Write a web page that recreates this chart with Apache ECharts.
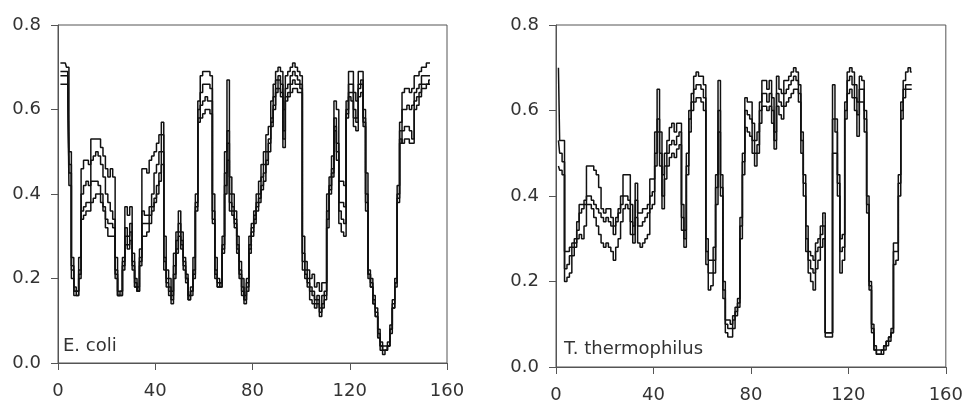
<!DOCTYPE html>
<html>
<head>
<meta charset="utf-8">
<script src="https://cdn.jsdelivr.net/npm/echarts@6/dist/echarts.min.js"></script>
<style>
html,body{margin:0;padding:0;background:#fff;}
#chart{width:966px;height:407px;}
</style>
</head>
<body>
<div id="chart"></div>
<script>
// x ticks / y ticks
const xTicks = [0, 40, 80, 120, 160];
const yTicks = [0.0, 0.2, 0.4, 0.6, 0.8];
const panelLabels = ["E. coli", "T. thermophilus"];

// E. coli profiles (residue positions 1..153)
const ecoliA = [
0.71,0.71,0.71,0.70,0.50,0.25,0.18,0.17,0.25,0.46,
0.48,0.48,0.47,0.53,0.53,0.53,0.53,0.51,0.49,0.46,
0.44,0.46,0.44,0.25,0.17,0.17,0.25,0.37,0.35,0.37,
0.26,0.20,0.18,0.27,0.46,0.46,0.45,0.48,0.49,0.50,
0.52,0.54,0.57,0.30,0.22,0.20,0.17,0.26,0.31,0.36,
0.31,0.25,0.21,0.16,0.18,0.25,0.40,0.62,0.68,0.69,
0.69,0.69,0.68,0.40,0.25,0.20,0.19,0.30,0.50,0.67,
0.44,0.40,0.36,0.30,0.24,0.20,0.16,0.20,0.30,0.33,
0.36,0.40,0.43,0.47,0.50,0.54,0.56,0.62,0.66,0.69,
0.70,0.69,0.60,0.68,0.69,0.70,0.71,0.70,0.69,0.68,
0.30,0.24,0.22,0.20,0.21,0.18,0.19,0.17,0.19,0.19,
0.40,0.44,0.49,0.62,0.60,0.43,0.43,0.42,0.62,0.69,
0.69,0.64,0.62,0.69,0.69,0.60,0.45,0.22,0.20,0.16,
0.13,0.08,0.05,0.04,0.04,0.05,0.09,0.15,0.20,0.42,
0.57,0.64,0.65,0.65,0.64,0.65,0.68,0.68,0.69,0.70,
0.70,0.71,0.71];
const ecoliB = [
0.68,0.68,0.68,0.68,0.45,0.22,0.17,0.17,0.22,0.40,
0.42,0.43,0.42,0.48,0.49,0.50,0.49,0.47,0.44,0.40,
0.38,0.36,0.34,0.22,0.16,0.17,0.24,0.32,0.30,0.33,
0.24,0.19,0.17,0.25,0.36,0.35,0.35,0.37,0.40,0.45,
0.47,0.50,0.54,0.25,0.20,0.18,0.15,0.23,0.29,0.33,
0.29,0.23,0.20,0.15,0.17,0.22,0.38,0.60,0.64,0.66,
0.66,0.66,0.65,0.36,0.22,0.18,0.18,0.28,0.45,0.55,
0.40,0.37,0.34,0.28,0.22,0.18,0.15,0.19,0.28,0.32,
0.35,0.38,0.40,0.44,0.47,0.50,0.53,0.58,0.63,0.67,
0.68,0.66,0.55,0.65,0.66,0.68,0.69,0.68,0.67,0.66,
0.26,0.22,0.20,0.18,0.17,0.15,0.16,0.13,0.16,0.17,
0.36,0.42,0.46,0.58,0.52,0.38,0.38,0.37,0.60,0.66,
0.66,0.60,0.58,0.66,0.67,0.58,0.40,0.21,0.19,0.15,
0.12,0.07,0.04,0.03,0.03,0.04,0.08,0.14,0.19,0.40,
0.55,0.60,0.60,0.61,0.60,0.61,0.64,0.65,0.66,0.68,
0.68,0.68,0.68];
const ecoliC = [
0.66,0.66,0.66,0.66,0.42,0.20,0.16,0.16,0.20,0.36,
0.37,0.38,0.38,0.43,0.43,0.43,0.42,0.40,0.37,0.34,
0.33,0.33,0.32,0.20,0.16,0.16,0.22,0.28,0.27,0.29,
0.22,0.18,0.17,0.23,0.33,0.33,0.33,0.35,0.37,0.39,
0.42,0.45,0.50,0.22,0.18,0.16,0.14,0.20,0.26,0.30,
0.27,0.22,0.19,0.15,0.16,0.20,0.36,0.58,0.61,0.62,
0.63,0.62,0.62,0.33,0.20,0.18,0.19,0.26,0.40,0.48,
0.36,0.35,0.32,0.26,0.20,0.16,0.14,0.18,0.26,0.30,
0.33,0.36,0.38,0.41,0.43,0.47,0.50,0.56,0.60,0.64,
0.65,0.63,0.51,0.62,0.63,0.64,0.65,0.65,0.64,0.64,
0.22,0.20,0.18,0.15,0.14,0.13,0.14,0.11,0.13,0.15,
0.32,0.40,0.44,0.55,0.48,0.33,0.31,0.30,0.58,0.63,
0.62,0.56,0.55,0.63,0.64,0.56,0.36,0.20,0.18,0.14,
0.11,0.06,0.03,0.02,0.03,0.04,0.07,0.13,0.18,0.38,
0.52,0.55,0.56,0.56,0.55,0.53,0.62,0.63,0.64,0.66,
0.66,0.66,0.66];
const ecoliD = [
0.69,0.69,0.69,0.69,0.47,0.23,0.17,0.16,0.21,0.34,
0.35,0.36,0.36,0.38,0.39,0.40,0.40,0.38,0.36,0.32,
0.30,0.30,0.30,0.21,0.16,0.16,0.23,0.30,0.28,0.31,
0.23,0.18,0.17,0.24,0.30,0.30,0.31,0.33,0.36,0.38,
0.40,0.43,0.47,0.24,0.19,0.17,0.16,0.21,0.27,0.31,
0.28,0.24,0.20,0.16,0.17,0.21,0.37,0.57,0.58,0.59,
0.60,0.60,0.59,0.34,0.21,0.19,0.18,0.27,0.42,0.52,
0.38,0.36,0.33,0.27,0.21,0.17,0.15,0.17,0.27,0.31,
0.34,0.37,0.39,0.42,0.45,0.48,0.52,0.57,0.61,0.65,
0.67,0.64,0.53,0.63,0.64,0.66,0.67,0.66,0.66,0.65,
0.24,0.21,0.19,0.17,0.16,0.14,0.15,0.12,0.14,0.16,
0.34,0.41,0.45,0.56,0.50,0.36,0.34,0.33,0.59,0.64,
0.64,0.58,0.57,0.65,0.66,0.57,0.38,0.21,0.18,0.14,
0.11,0.06,0.04,0.03,0.03,0.04,0.08,0.13,0.19,0.39,
0.53,0.52,0.53,0.53,0.52,0.52,0.60,0.61,0.63,0.65,
0.65,0.66,0.67];

// T. thermophilus profiles (residue positions 1..146)
const thermoA = [
0.70,0.53,0.53,0.27,0.27,0.28,0.29,0.30,0.34,0.38,
0.38,0.39,0.47,0.47,0.47,0.46,0.45,0.42,0.37,0.36,
0.37,0.37,0.35,0.33,0.35,0.37,0.40,0.45,0.45,0.45,
0.38,0.33,0.43,0.36,0.36,0.37,0.37,0.38,0.44,0.44,
0.55,0.65,0.55,0.45,0.50,0.53,0.56,0.57,0.55,0.57,
0.57,0.38,0.32,0.50,0.60,0.64,0.68,0.69,0.68,0.68,
0.66,0.30,0.25,0.25,0.28,0.45,0.67,0.45,0.20,0.11,
0.11,0.10,0.12,0.14,0.16,0.35,0.50,0.63,0.62,0.62,
0.57,0.53,0.55,0.62,0.67,0.67,0.65,0.67,0.63,0.55,
0.68,0.65,0.64,0.67,0.67,0.68,0.69,0.70,0.69,0.66,
0.55,0.45,0.33,0.27,0.26,0.25,0.29,0.30,0.33,0.36,
0.08,0.08,0.08,0.66,0.58,0.45,0.30,0.31,0.62,0.69,
0.70,0.69,0.66,0.62,0.68,0.67,0.60,0.40,0.20,0.10,
0.05,0.04,0.04,0.04,0.05,0.06,0.07,0.09,0.29,0.29,
0.45,0.62,0.67,0.69,0.70,0.69];
const thermoB = [
0.53,0.50,0.48,0.23,0.24,0.26,0.28,0.29,0.32,0.36,
0.37,0.38,0.40,0.40,0.39,0.38,0.37,0.36,0.35,0.34,
0.35,0.34,0.33,0.31,0.34,0.36,0.38,0.40,0.40,0.39,
0.34,0.31,0.39,0.33,0.33,0.34,0.35,0.36,0.40,0.41,
0.50,0.58,0.50,0.40,0.47,0.50,0.52,0.53,0.52,0.54,
0.55,0.35,0.30,0.47,0.58,0.62,0.65,0.66,0.66,0.65,
0.63,0.27,0.22,0.22,0.25,0.42,0.60,0.42,0.18,0.10,
0.09,0.09,0.11,0.13,0.15,0.33,0.48,0.60,0.59,0.58,
0.53,0.50,0.52,0.60,0.64,0.64,0.62,0.64,0.60,0.53,
0.64,0.62,0.61,0.64,0.65,0.66,0.67,0.68,0.67,0.64,
0.53,0.43,0.30,0.25,0.23,0.22,0.27,0.28,0.31,0.33,
0.08,0.08,0.08,0.58,0.55,0.43,0.27,0.28,0.60,0.67,
0.68,0.66,0.63,0.59,0.65,0.65,0.58,0.38,0.19,0.09,
0.04,0.03,0.03,0.04,0.05,0.06,0.07,0.08,0.27,0.27,
0.43,0.60,0.65,0.66,0.66,0.66];
const thermoC = [
0.47,0.46,0.45,0.20,0.21,0.22,0.26,0.28,0.30,0.31,
0.30,0.33,0.38,0.38,0.37,0.35,0.33,0.31,0.29,0.28,
0.29,0.28,0.27,0.25,0.28,0.30,0.34,0.37,0.38,0.37,
0.31,0.29,0.35,0.29,0.28,0.29,0.30,0.31,0.37,0.38,
0.47,0.55,0.47,0.37,0.44,0.47,0.49,0.50,0.49,0.51,
0.52,0.32,0.28,0.45,0.55,0.60,0.62,0.63,0.63,0.62,
0.60,0.24,0.18,0.19,0.22,0.38,0.55,0.40,0.16,0.08,
0.07,0.07,0.09,0.12,0.14,0.30,0.45,0.56,0.55,0.54,
0.50,0.47,0.50,0.57,0.61,0.61,0.60,0.61,0.57,0.51,
0.61,0.59,0.58,0.61,0.62,0.63,0.64,0.65,0.65,0.62,
0.50,0.40,0.27,0.22,0.20,0.18,0.23,0.25,0.28,0.30,
0.07,0.07,0.07,0.50,0.50,0.40,0.22,0.25,0.58,0.64,
0.65,0.63,0.60,0.54,0.62,0.62,0.55,0.36,0.18,0.08,
0.04,0.03,0.03,0.03,0.04,0.05,0.06,0.08,0.24,0.25,
0.40,0.58,0.63,0.65,0.65,0.65];

const ecoliSeries = [ecoliA, ecoliB, ecoliC, ecoliD];
const thermoSeries = [thermoA, thermoB, thermoC];

const FONT = "DejaVu Sans";
const AXIS_COLOR = "#555";
const LINE_COLOR = "#111";

function mkX(idx) {
  return {
    type: 'value', gridIndex: idx, min: xTicks[0], max: xTicks[xTicks.length-1], interval: 40,
    axisLine: {show: true, lineStyle: {color: AXIS_COLOR, width: 1}},
    axisTick: {show: true, inside: false, length: 7, lineStyle: {color: AXIS_COLOR}},
    axisLabel: {fontFamily: FONT, fontSize: 18, color: '#333', margin: 19},
    splitLine: {show: false}
  };
}
function mkY(idx) {
  return {
    type: 'value', gridIndex: idx, min: yTicks[0], max: yTicks[yTicks.length-1], interval: 0.2,
    axisLine: {show: true, lineStyle: {color: AXIS_COLOR, width: 1}},
    axisTick: {show: true, inside: false, length: 7, lineStyle: {color: AXIS_COLOR}},
    axisLabel: {fontFamily: FONT, fontSize: 18, color: '#333', margin: 17,
      formatter: v => v.toFixed(1)},
    splitLine: {show: false}
  };
}
function mkSeries(arr, idx) {
  return {
    type: 'line', xAxisIndex: idx, yAxisIndex: idx,
    data: arr.map((v, i) => [i + 1, v]),
    step: 'middle', showSymbol: false, symbol: 'none',
    lineStyle: {color: LINE_COLOR, width: 1.5},
    silent: true, animation: false
  };
}

const chart = echarts.init(document.getElementById('chart'), null, {renderer: 'canvas'});
chart.setOption({
  backgroundColor: '#fff',
  animation: false,
  grid: [
    {left: 58, top: 25, width: 389, height: 338, show: true, borderColor: AXIS_COLOR, borderWidth: 1, backgroundColor: 'transparent'},
    {left: 556, top: 25, width: 390, height: 342, show: true, borderColor: AXIS_COLOR, borderWidth: 1, backgroundColor: 'transparent'}
  ],
  xAxis: [mkX(0), mkX(1)],
  yAxis: [mkY(0), mkY(1)],
  series: ecoliSeries.map(a => mkSeries(a, 0)).concat(thermoSeries.map(a => mkSeries(a, 1))),
  graphic: [
    {type: 'text', left: 63, top: 337, style: {text: panelLabels[0], font: '18px "DejaVu Sans"', fill: '#333'}},
    {type: 'text', left: 564, top: 340, style: {text: panelLabels[1], font: '18px "DejaVu Sans"', fill: '#333'}}
  ]
});
</script>
</body>
</html>
